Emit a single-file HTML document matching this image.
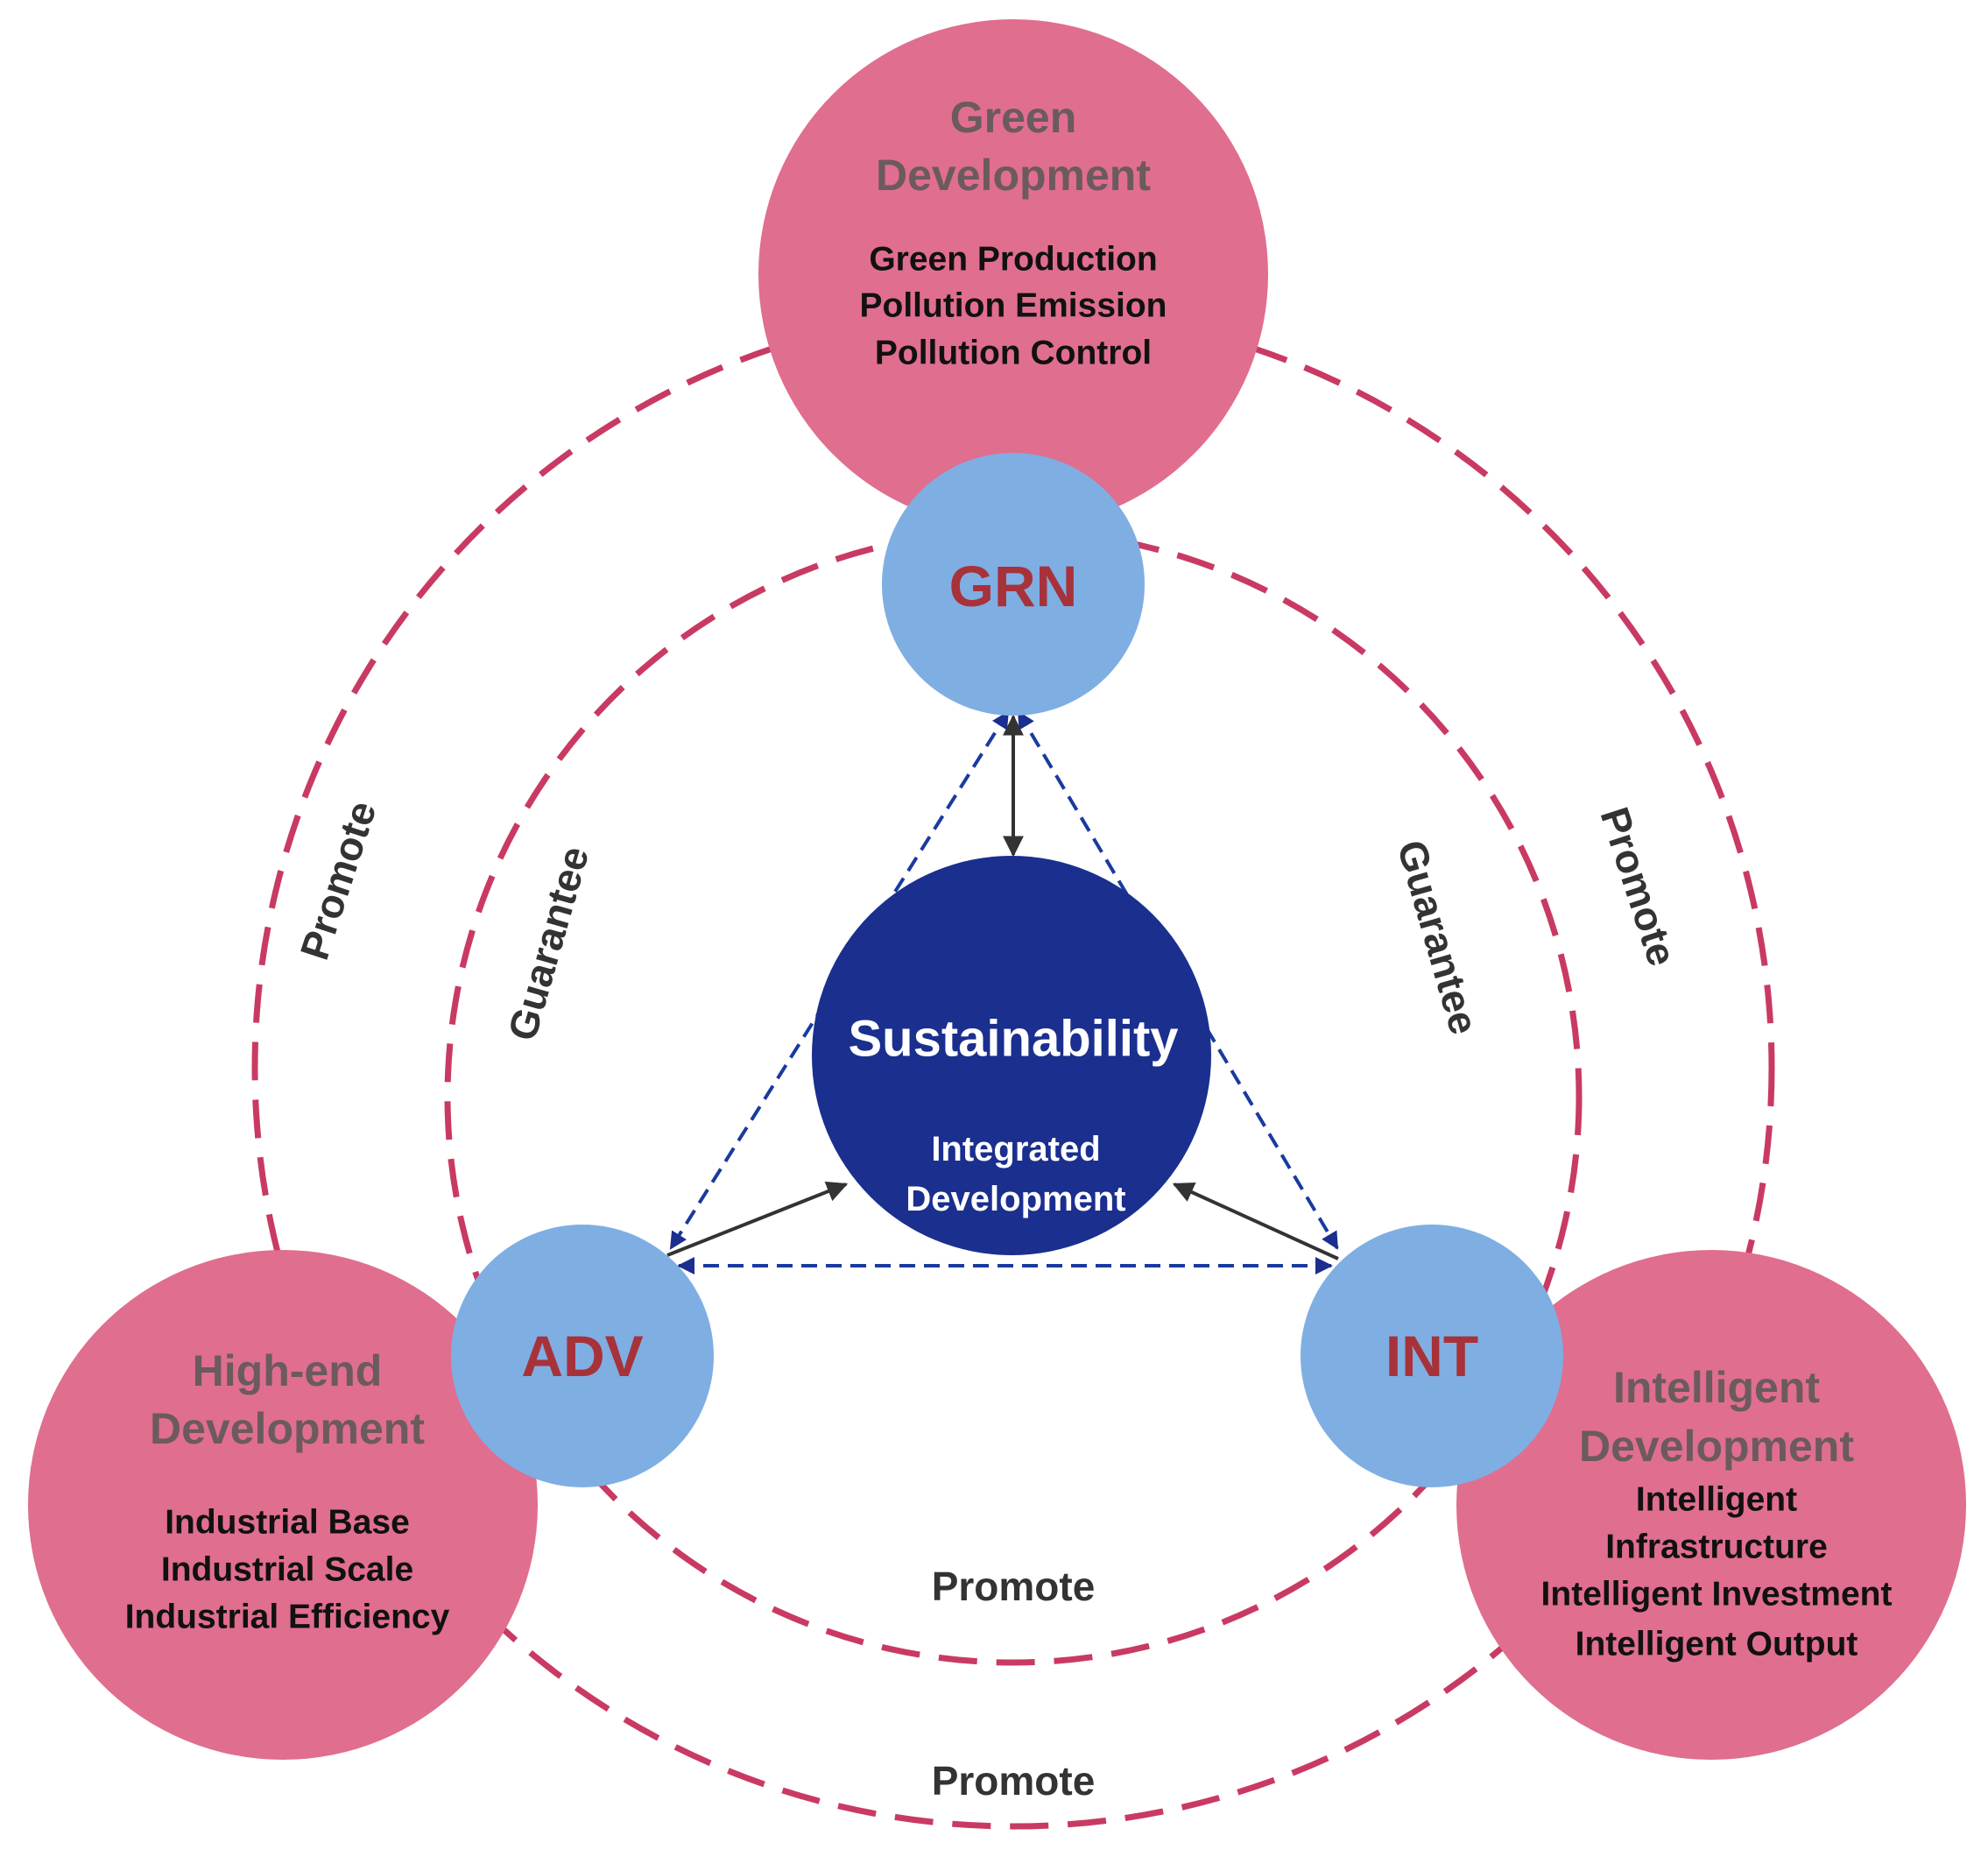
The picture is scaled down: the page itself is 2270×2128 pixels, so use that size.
<!DOCTYPE html>
<html><head><meta charset="utf-8"><style>
html,body{margin:0;padding:0;background:#fff}
svg{display:block}
text{font-family:"Liberation Sans",sans-serif;font-weight:bold;text-anchor:middle;dominant-baseline:central}
</style></head><body>
<svg width="2270" height="2128" viewBox="0 0 2270 2128" xmlns="http://www.w3.org/2000/svg">
<defs>
<marker id="bh" viewBox="0 0 10 10" refX="9" refY="5" markerWidth="5" markerHeight="5" orient="auto-start-reverse"><path d="M0,0L10,5L0,10z" fill="#1a2f8e"/></marker>
<marker id="kh" viewBox="0 0 10 10" refX="9" refY="5" markerWidth="6" markerHeight="6" orient="auto-start-reverse"><path d="M0,0L10,5L0,10z" fill="#333"/></marker>
</defs>
<!-- dashed rings -->
<circle cx="1157" cy="1219" r="866" fill="none" stroke="#c93a62" stroke-width="7" stroke-dasharray="44 22"/>
<circle cx="1157" cy="1252" r="646" fill="none" stroke="#c93a62" stroke-width="7" stroke-dasharray="44 22"/>
<!-- outer pink circles -->
<circle cx="1157" cy="313" r="291" fill="#e06e8f"/>
<circle cx="323" cy="1718" r="291" fill="#e06e8f"/>
<circle cx="1954" cy="1718" r="291" fill="#e06e8f"/>
<!-- blue connectors -->
<g stroke="#1a3a9e" stroke-width="4" stroke-dasharray="18 10" fill="none">
<line x1="1151" y1="813" x2="766" y2="1425" marker-start="url(#bh)" marker-end="url(#bh)"/>
<line x1="1163" y1="813" x2="1527" y2="1425" marker-start="url(#bh)" marker-end="url(#bh)"/>
<line x1="775" y1="1445" x2="1520" y2="1445" marker-start="url(#bh)" marker-end="url(#bh)"/>
</g>
<g stroke="#333" stroke-width="4" fill="none">
<line x1="1157" y1="818" x2="1157" y2="976" marker-start="url(#kh)" marker-end="url(#kh)"/>
<line x1="762" y1="1433" x2="966" y2="1352" marker-end="url(#kh)"/>
<line x1="1528" y1="1437" x2="1341" y2="1352" marker-end="url(#kh)"/>
</g>
<!-- center -->
<circle cx="1155" cy="1205" r="228" fill="#1a2f8e"/>
<!-- blue nodes -->
<circle cx="1157" cy="667" r="150" fill="#7faee3"/>
<circle cx="665" cy="1548" r="150" fill="#7faee3"/>
<circle cx="1635" cy="1548" r="150" fill="#7faee3"/>
<text x="1157" y="669" font-size="66" fill="#a8323a">GRN</text>
<text x="665" y="1548" font-size="66" fill="#a8323a">ADV</text>
<text x="1635" y="1548" font-size="66" fill="#a8323a">INT</text>
<text x="1157" y="1186" font-size="58" fill="#fff">Sustainability</text>
<text x="1160" y="1312" font-size="40" fill="#fff">Integrated</text>
<text x="1160" y="1369" font-size="40" fill="#fff">Development</text>
<!-- pink texts -->
<g fill="#6b5a5e" font-size="50">
<text x="1157" y="134">Green</text>
<text x="1157" y="200">Development</text>
<text x="328" y="1565">High-end</text>
<text x="328" y="1631">Development</text>
<text x="1960" y="1584">Intelligent</text>
<text x="1960" y="1651">Development</text>
</g>
<g fill="#111" font-size="39">
<text x="1157" y="296">Green Production</text>
<text x="1157" y="349">Pollution Emission</text>
<text x="1157" y="403">Pollution Control</text>
<text x="328" y="1738">Industrial Base</text>
<text x="328" y="1792">Industrial Scale</text>
<text x="328" y="1846">Industrial Efficiency</text>
<text x="1960" y="1712">Intelligent</text>
<text x="1960" y="1766">Infrastructure</text>
<text x="1960" y="1820">Intelligent Investment</text>
<text x="1960" y="1877">Intelligent Output</text>
</g>
<!-- ring labels -->
<g fill="#333" font-size="46">
<text transform="translate(386,1005) rotate(-72)">Promote</text>
<text transform="translate(626,1077) rotate(-74)">Guarantee</text>
<text transform="translate(1642,1070) rotate(74)">Guarantee</text>
<text transform="translate(1871,1012) rotate(72)">Promote</text>
<text x="1157" y="1811">Promote</text>
<text x="1157" y="2033">Promote</text>
</g>
</svg>
</body></html>
